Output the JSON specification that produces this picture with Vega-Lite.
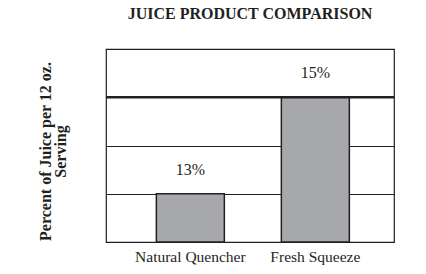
{
  "$schema": "https://vega.github.io/schema/vega-lite/v6.json",
  "width": 288,
  "height": 193,
  "autosize": {"type": "none"},
  "padding": {"left": 106, "top": 49, "right": 32, "bottom": 32},
  "background": "white",
  "config": {
    "font": "Liberation Serif",
    "view": {"stroke": "#231f20", "strokeWidth": 1.2}
  },
  "title": {
    "text": "JUICE PRODUCT COMPARISON",
    "font": "Liberation Serif",
    "fontSize": 16,
    "fontWeight": "bold",
    "color": "#231f20",
    "anchor": "middle",
    "offset": 27
  },
  "data": {
    "values": [
      {"product": "Natural Quencher", "percent": 13, "label": "13%"},
      {"product": "Fresh Squeeze", "percent": 15, "label": "15%"}
    ]
  },
  "encoding": {
    "x": {
      "field": "product",
      "type": "nominal",
      "sort": null,
      "scale": {"paddingInner": 0.456, "paddingOuter": 0.38, "align": 0.53},
      "axis": {
        "title": null,
        "labelAngle": 0,
        "labelFont": "Liberation Serif",
        "labelFontSize": 15.5,
        "labelColor": "#231f20",
        "labelPadding": 7,
        "ticks": false,
        "domain": false
      }
    },
    "y": {
      "field": "percent",
      "type": "quantitative",
      "scale": {"domain": [12, 16], "zero": false, "nice": false},
      "axis": {
        "title": ["Percent of Juice per 12 oz.", "Serving"],
        "titleFont": "Liberation Serif",
        "titleFontSize": 16,
        "titleFontWeight": "bold",
        "titleColor": "#231f20",
        "titleLineHeight": 15.5,
        "titleX": -53,
        "titleY": 102,
        "titleAlign": "center",
        "titleAngle": -90,
        "labels": false,
        "ticks": false,
        "domain": false,
        "grid": true,
        "values": [12, 13, 14, 15, 16],
        "gridColor": "#231f20",
        "gridOpacity": 1,
        "gridWidth": 1.2
      }
    }
  },
  "layer": [
    {
      "mark": {"type": "bar", "fill": "#a7a8ab", "stroke": "#231f20", "strokeWidth": 1.5},
      "encoding": {"y2": {"datum": 12}}
    },
    {
      "data": {"values": [{"level": 15}]},
      "mark": {"type": "rule", "stroke": "#231f20", "strokeWidth": 2.5},
      "encoding": {"y": {"field": "level", "type": "quantitative"}, "x": null}
    },
    {
      "mark": {"type": "text", "dy": -24, "font": "Liberation Serif", "fontSize": 16, "color": "#231f20", "baseline": "middle"},
      "encoding": {"text": {"field": "label"}}
    }
  ]
}
